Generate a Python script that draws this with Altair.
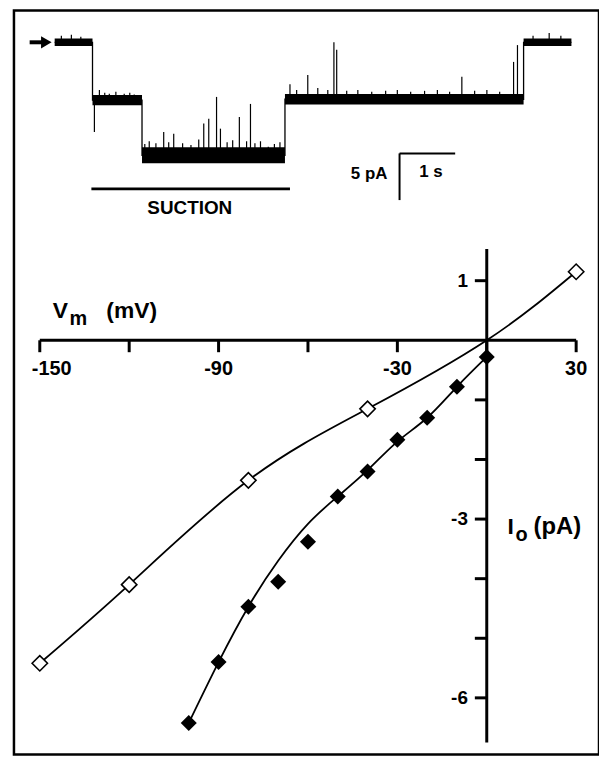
import altair as alt
import pandas as pd
import numpy as np

# ---------------- I-V relation (bottom panel) ----------------
v_open = [-150, -120, -80, -40, 30]
i_open = [-5.42, -4.10, -2.35, -1.15, 1.15]
v_open_fit = [-150, -120, -80, -40, 0, 30]
i_open_fit = [-5.42, -4.10, -2.35, -1.15, 0.0, 1.15]

v_fill = [0, -10, -20, -30, -40, -50, -60, -70, -80, -90, -100]
i_fill = [-0.28, -0.78, -1.30, -1.67, -2.20, -2.62, -3.38, -4.05, -4.47, -5.40, -6.42]
v_fill_fit = [0, -10, -20, -30, -40, -50, -60, -70, -80, -90, -100]
i_fill_fit = [-0.28, -0.78, -1.30, -1.70, -2.18, -2.62, -3.08, -3.70, -4.47, -5.40, -6.42]

x_ticks = [-150, -120, -90, -60, -30, 0, 30]
x_labels = [-150, -90, -30, 30]
y_ticks = [1, -1, -2, -3, -4, -5, -6]
y_labels = [1, -3, -6]
x_axis_ends = [-150, 30]
y_axis_ends = [-6.75, 1.53]

# ---------------- single-channel trace (top panel) ----------------
seg_t0 = [0.0, 0.68, 1.57, 4.14, 8.43]
seg_t1 = [0.68, 1.57, 4.14, 8.43, 9.29]
seg_level = [0.0, -6.2, -12.1, -6.1, 0.0]
seg_noise = [0.4, 0.55, 0.85, 0.55, 0.4]

spike_t = [0.12, 0.30, 0.47,
           0.714, 0.804, 0.90, 0.982, 1.10, 1.25, 1.35, 1.43,
           1.62, 1.70, 1.82, 1.96, 2.05, 2.14, 2.30, 2.45, 2.59, 2.68, 2.77, 2.91, 2.98,
           3.10, 3.20, 3.32, 3.45, 3.52, 3.60, 3.70, 3.84, 3.95, 4.05,
           4.23, 4.35, 4.55, 4.73, 4.91, 5.02, 5.07, 5.25, 5.45, 5.70, 5.95, 6.16, 6.40,
           6.65, 6.88, 7.10, 7.32, 7.55, 7.77, 8.00, 8.25, 8.32,
           8.60, 8.89, 9.10]
spike_peak = [0.7, 0.8, 0.6,
              -9.6, -5.1, -5.4, -5.5, -5.3, -5.5, -5.4, -5.6,
              -10.9, -10.6, -10.8, -9.6, -10.7, -9.8, -10.8, -11.0, -10.4, -8.7, -8.2, -5.85, -9.25,
              -10.7, -10.5, -8.0, -10.6, -6.6, -10.8, -10.6, -11.2, -10.9, -10.7,
              -4.5, -5.1, -3.5, -4.9, -5.1, 0.0, -0.8, -5.2, -5.1, -5.3, -5.2, -5.1, -5.3,
              -5.2, -5.1, -5.3, -3.7, -5.2, -5.1, -5.3, -2.1, -0.3,
              0.7, 1.0, 0.7]

suction_t = [0.66, 4.23]
suction_i = -15.7
scale_t0, scale_dt = 6.2, 1.0     # 1 s
scale_i0, scale_di = -11.9, 5.0   # 5 pA
arrow_t = [-0.45, -0.15]

FONT = "Liberation Sans"
W, H = 589, 749

# scales (plot area = framed box)
iv_x = alt.Scale(domain=[-158.667, 37.667], nice=False, zero=False)
iv_y = alt.Scale(domain=[-6.95, 5.5333], nice=False, zero=False)
tr_x = alt.Scale(domain=[-0.7321, 9.7857], nice=False, zero=False)
tr_y = alt.Scale(domain=[-76.28, 3.404], nice=False, zero=False)

# ---------- trace layers ----------
seg_df = pd.DataFrame({"t0": seg_t0, "t1": seg_t1, "lev": seg_level, "nz": seg_noise})
seg_df["hi"] = seg_df["lev"] + seg_df["nz"]
seg_df["lo"] = seg_df["lev"] - seg_df["nz"]

step_df = pd.DataFrame({"t": seg_t0 + [seg_t1[-1]], "lev": seg_level + [seg_level[-1]]})

idx = np.searchsorted(np.array(seg_t1), np.array(spike_t))
spk_df = pd.DataFrame({"t": spike_t, "peak": spike_peak,
                       "base": [seg_level[min(k, len(seg_level) - 1)] for k in idx]})

band = alt.Chart(seg_df).mark_rect(color="black").encode(
    x=alt.X("t0:Q", scale=tr_x, axis=None), x2="t1:Q",
    y=alt.Y("hi:Q", scale=tr_y, axis=None), y2="lo:Q")

step = alt.Chart(step_df).mark_line(color="black", strokeWidth=1.3, interpolate="step-after").encode(
    x=alt.X("t:Q", scale=tr_x, axis=None), y=alt.Y("lev:Q", scale=tr_y, axis=None))

spikes = alt.Chart(spk_df).mark_rule(color="black", strokeWidth=1.2).encode(
    x=alt.X("t:Q", scale=tr_x, axis=None), y=alt.Y("base:Q", scale=tr_y, axis=None), y2="peak:Q")

suc_df = pd.DataFrame({"a": [suction_t[0]], "b": [suction_t[1]], "i": [suction_i]})
suction = alt.Chart(suc_df).mark_rule(color="black", strokeWidth=3).encode(
    x=alt.X("a:Q", scale=tr_x, axis=None), x2="b:Q", y=alt.Y("i:Q", scale=tr_y, axis=None))

sb_df = pd.DataFrame({"t0": [scale_t0], "t1": [scale_t0 + scale_dt],
                      "i0": [scale_i0], "i1": [scale_i0 - scale_di]})
sb_h = alt.Chart(sb_df).mark_rule(color="black", strokeWidth=2).encode(
    x=alt.X("t0:Q", scale=tr_x, axis=None), x2="t1:Q", y=alt.Y("i0:Q", scale=tr_y, axis=None))
sb_v = alt.Chart(sb_df).mark_rule(color="black", strokeWidth=2).encode(
    x=alt.X("t0:Q", scale=tr_x, axis=None), y=alt.Y("i0:Q", scale=tr_y, axis=None), y2="i1:Q")

ar_df = pd.DataFrame({"a": [arrow_t[0]], "b": [arrow_t[1]], "i": [0.0]})
arrow_stem = alt.Chart(ar_df).mark_rule(color="black", strokeWidth=4).encode(
    x=alt.X("a:Q", scale=tr_x, axis=None), x2="b:Q", y=alt.Y("i:Q", scale=tr_y, axis=None))
arrow_head = alt.Chart(ar_df).mark_point(shape="triangle-right", filled=True, color="black",
                                         size=150, opacity=1).encode(
    x=alt.X("b:Q", scale=tr_x, axis=None), y=alt.Y("i:Q", scale=tr_y, axis=None))

def label(text, px, py, size, align="left", baseline="alphabetic"):
    return alt.Chart(pd.DataFrame({"s": [text]})).mark_text(
        font=FONT, fontWeight="bold", fontSize=size, align=align, baseline=baseline,
        color="black").encode(x=alt.value(px), y=alt.value(py), text="s:N")

trace = alt.layer(band, step, spikes, suction, sb_h, sb_v, arrow_stem, arrow_head)

# ---------- I-V layers ----------
xa_df = pd.DataFrame({"a": [x_axis_ends[0]], "b": [x_axis_ends[1]], "z": [0.0]})
x_axis = alt.Chart(xa_df).mark_rule(color="black", strokeWidth=3).encode(
    x=alt.X("a:Q", scale=iv_x, axis=None), x2="b:Q", y=alt.Y("z:Q", scale=iv_y, axis=None))
ya_df = pd.DataFrame({"a": [y_axis_ends[0]], "b": [y_axis_ends[1]], "z": [0.0]})
y_axis = alt.Chart(ya_df).mark_rule(color="black", strokeWidth=3).encode(
    x=alt.X("z:Q", scale=iv_x, axis=None), y=alt.Y("a:Q", scale=iv_y, axis=None), y2="b:Q")

XT_LEN = 0.2   # pA (tick length downwards)
YT_LEN = 4.0   # mV (tick length leftwards)
xt_df = pd.DataFrame({"v": x_ticks})
xt_df["y0"] = 0.0
xt_df["y1"] = -XT_LEN
x_tk = alt.Chart(xt_df).mark_rule(color="black", strokeWidth=3).encode(
    x=alt.X("v:Q", scale=iv_x, axis=None), y=alt.Y("y0:Q", scale=iv_y, axis=None), y2="y1:Q")
yt_df = pd.DataFrame({"i": y_ticks})
yt_df["x0"] = 0.0
yt_df["x1"] = -YT_LEN
y_tk = alt.Chart(yt_df).mark_rule(color="black", strokeWidth=3).encode(
    x=alt.X("x0:Q", scale=iv_x, axis=None), x2="x1:Q", y=alt.Y("i:Q", scale=iv_y, axis=None))

xl_df = pd.DataFrame({"v": x_labels})
xl_df["z"] = 0.0
xl_df["s"] = xl_df["v"].astype(str)
x_lab_main = alt.Chart(xl_df[xl_df["v"] != x_labels[0]]).mark_text(
    font=FONT, fontWeight="bold", fontSize=20, align="center", baseline="alphabetic", dy=35).encode(
    x=alt.X("v:Q", scale=iv_x, axis=None), y=alt.Y("z:Q", scale=iv_y, axis=None), text="s:N")
x_lab_first = alt.Chart(xl_df[xl_df["v"] == x_labels[0]]).mark_text(
    font=FONT, fontWeight="bold", fontSize=20, align="center", baseline="alphabetic", dy=35, dx=12).encode(
    x=alt.X("v:Q", scale=iv_x, axis=None), y=alt.Y("z:Q", scale=iv_y, axis=None), text="s:N")

yl_df = pd.DataFrame({"i": y_labels})
yl_df["z"] = 0.0
yl_df["s"] = yl_df["i"].astype(str)
y_lab = alt.Chart(yl_df).mark_text(
    font=FONT, fontWeight="bold", fontSize=19, align="right", baseline="middle", dx=-19).encode(
    x=alt.X("z:Q", scale=iv_x, axis=None), y=alt.Y("i:Q", scale=iv_y, axis=None), text="s:N")

of_df = pd.DataFrame({"v": v_open_fit, "i": i_open_fit})
ff_df = pd.DataFrame({"v": v_fill_fit, "i": i_fill_fit})
open_fit = alt.Chart(of_df).mark_line(color="black", strokeWidth=1.8, interpolate="natural").encode(
    x=alt.X("v:Q", scale=iv_x, axis=None), y=alt.Y("i:Q", scale=iv_y, axis=None), order="v:Q")
fill_fit = alt.Chart(ff_df).mark_line(color="black", strokeWidth=1.8, interpolate="natural").encode(
    x=alt.X("v:Q", scale=iv_x, axis=None), y=alt.Y("i:Q", scale=iv_y, axis=None), order="v:Q")

op_df = pd.DataFrame({"v": v_open, "i": i_open})
fp_df = pd.DataFrame({"v": v_fill, "i": i_fill})
open_pts = alt.Chart(op_df).mark_point(shape="diamond", size=240, filled=True, fill="white",
                                       stroke="black", strokeWidth=1.6, opacity=1).encode(
    x=alt.X("v:Q", scale=iv_x, axis=None), y=alt.Y("i:Q", scale=iv_y, axis=None))
fill_pts = alt.Chart(fp_df).mark_point(shape="diamond", size=260, filled=True, color="black",
                                       opacity=1).encode(
    x=alt.X("v:Q", scale=iv_x, axis=None), y=alt.Y("i:Q", scale=iv_y, axis=None))

iv = alt.layer(x_axis, y_axis, x_tk, y_tk, open_fit, fill_fit, open_pts, fill_pts,
               x_lab_main, x_lab_first, y_lab)

texts = alt.layer(
    label("SUCTION", 177, 205, 19, align="center"),
    label("5 pA", 376, 170, 17, align="right"),
    label("1 s", 408, 168, 17, align="left"),
    label("V", 39, 310, 23),
    label("m", 56, 317, 20),
    label("(mV)", 93, 310, 23),
    label("I", 497, 527, 23),
    label("o", 505, 534, 20),
    label("(pA)", 523, 527, 24),
)

chart = alt.layer(trace, iv, texts).resolve_scale(x="independent", y="independent").properties(
    width=W, height=H,
    padding={"left": 6, "top": 0, "right": 0, "bottom": 0},
    background="white",
).configure_view(stroke="black", strokeWidth=2.5)

chart.save("out.html", embed_options={"renderer": "svg", "actions": False})
